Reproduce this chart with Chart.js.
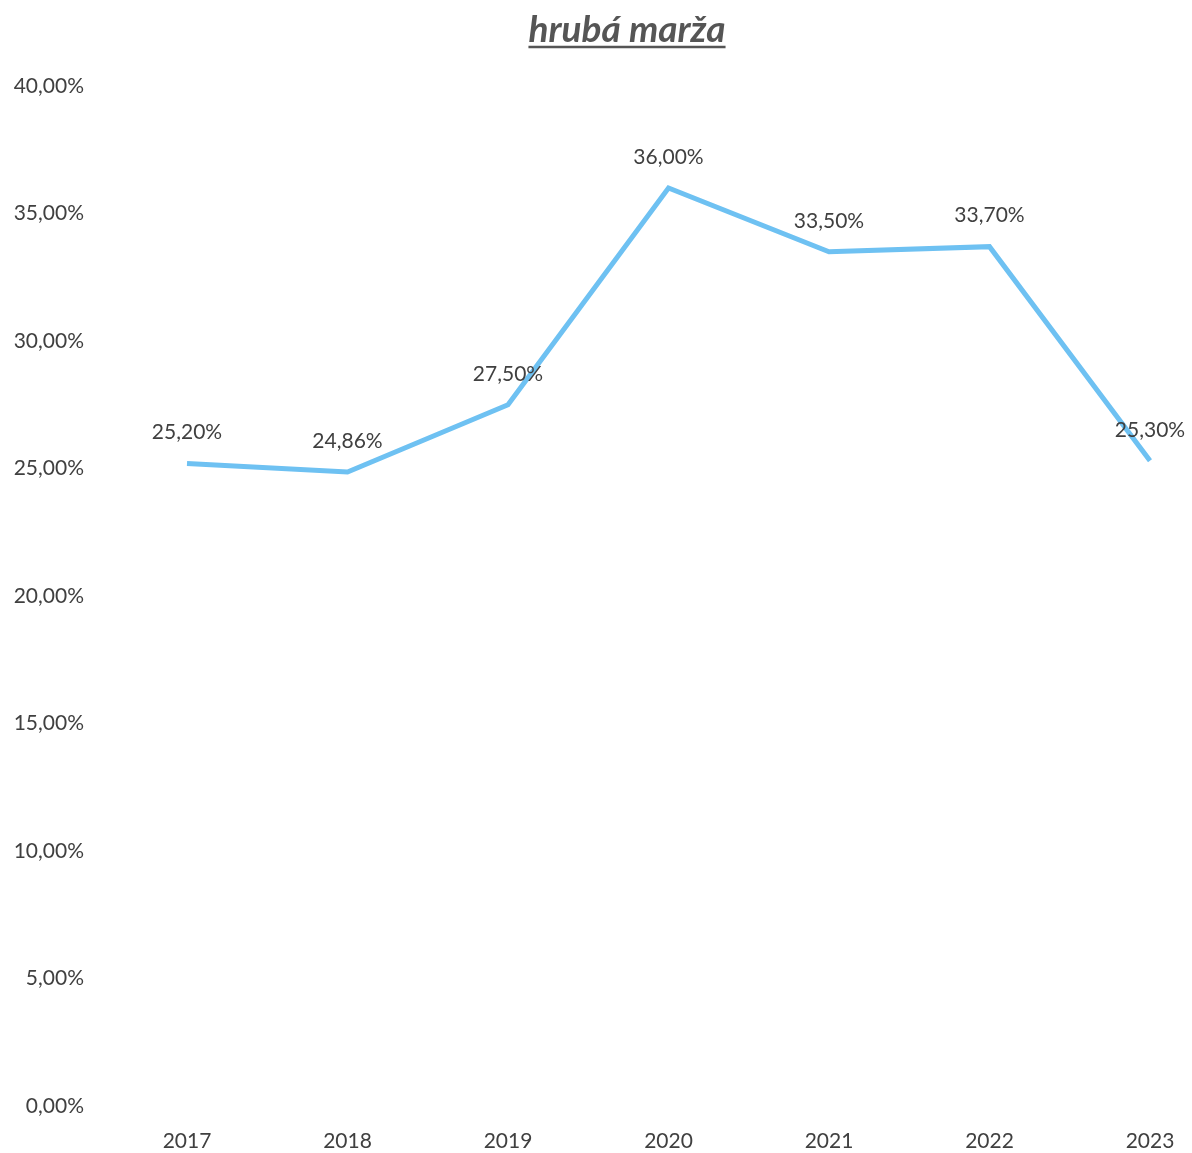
<!DOCTYPE html>
<html>
<head>
<meta charset="utf-8">
<script src="https://cdn.jsdelivr.net/npm/chart.js@4"></script>
<style>
  html, body { margin: 0; padding: 0; background: #fff; overflow: hidden; }
  canvas { display: block; }
</style>
</head>
<body>
<canvas id="marginChart" width="1192" height="1153"></canvas>
<script>
// chart data
const chartTitle = 'hrubá marža';
const years = ['2017', '2018', '2019', '2020', '2021', '2022', '2023'];
const grossMargin = [25.20, 24.86, 27.50, 36.00, 33.50, 33.70, 25.30];
const yTicks = [0, 5, 10, 15, 20, 25, 30, 35, 40];

const textColor = '#404040';
const lineColor = '#6ec1f2';
const fontFamily = 'Lato, "Open Sans", sans-serif';
const titleFont = 'italic bold 37px ' + fontFamily;

// format numbers with comma decimals, e.g. 25,20%
function pct(v) {
    return v.toFixed(2).replace('.', ',') + '%';
}

// draws the value above every point
const pointLabels = {
    id: 'pointLabels',
    afterDatasetsDraw(chart) {
        const ctx = chart.ctx;
        const meta = chart.getDatasetMeta(0);
        ctx.save();
        ctx.font = '21px ' + fontFamily;
        ctx.fillStyle = textColor;
        ctx.textAlign = 'center';
        ctx.textBaseline = 'middle';
        meta.data.forEach((pt, i) => {
            ctx.fillText(pct(grossMargin[i]), pt.x, pt.y - 31);
        });
        ctx.restore();
    }
};

// underlined title, sits a bit right of the middle like the original
const underlinedTitle = {
    id: 'underlinedTitle',
    afterDraw(chart) {
        const ctx = chart.ctx;
        const cx = 627;
        ctx.save();
        ctx.font = titleFont;
        ctx.fillStyle = '#555';
        ctx.textAlign = 'center';
        ctx.textBaseline = 'middle';
        ctx.fillText(chartTitle, cx, 30);
        const w = ctx.measureText(chartTitle).width;
        ctx.strokeStyle = '#555';
        ctx.lineWidth = 2.5;
        ctx.beginPath();
        ctx.moveTo(cx - w / 2, 47);
        ctx.lineTo(cx + w / 2, 47);
        ctx.stroke();
        ctx.restore();
    }
};

const ctx = document.getElementById('marginChart').getContext('2d');
new Chart(ctx, {
    type: 'line',
    data: {
        labels: years,
        datasets: [{
            label: chartTitle,
            data: grossMargin,
            borderColor: lineColor,
            borderWidth: 5,
            fill: false,
            tension: 0,
            pointRadius: 0,
        }],
    },
    options: {
        responsive: false,
        animation: false,
        layout: {
            padding: { top: 86, right: 42, bottom: 0, left: 0 },
        },
        scales: {
            x: {
                offset: false,
                grid: { display: false, drawTicks: false },
                border: { display: false },
                afterFit(axis) {
                    axis.height = 47;
                    axis.paddingLeft = 0;
                    axis.paddingRight = 0;
                },
                ticks: {
                    color: textColor,
                    font: { family: fontFamily, size: 21 },
                    padding: 23,
                    maxRotation: 0,
                },
            },
            y: {
                min: 0,
                max: 40,
                afterBuildTicks(axis) {
                    axis.ticks = yTicks.map(v => ({ value: v }));
                },
                afterFit(axis) {
                    axis.width = 187;
                    // the big label padding should not push the plot down
                    axis.paddingTop = 12;
                    axis.paddingBottom = 12;
                },
                grid: { display: false, drawTicks: false },
                border: { display: false },
                ticks: {
                    color: textColor,
                    font: { family: fontFamily, size: 21 },
                    padding: 103,
                    callback: v => pct(v),
                },
            },
        },
        plugins: {
            legend: { display: false },
            tooltip: { enabled: false },
            title: { display: false },
        },
    },
    plugins: [pointLabels, underlinedTitle],
});
</script>
</body>
</html>
